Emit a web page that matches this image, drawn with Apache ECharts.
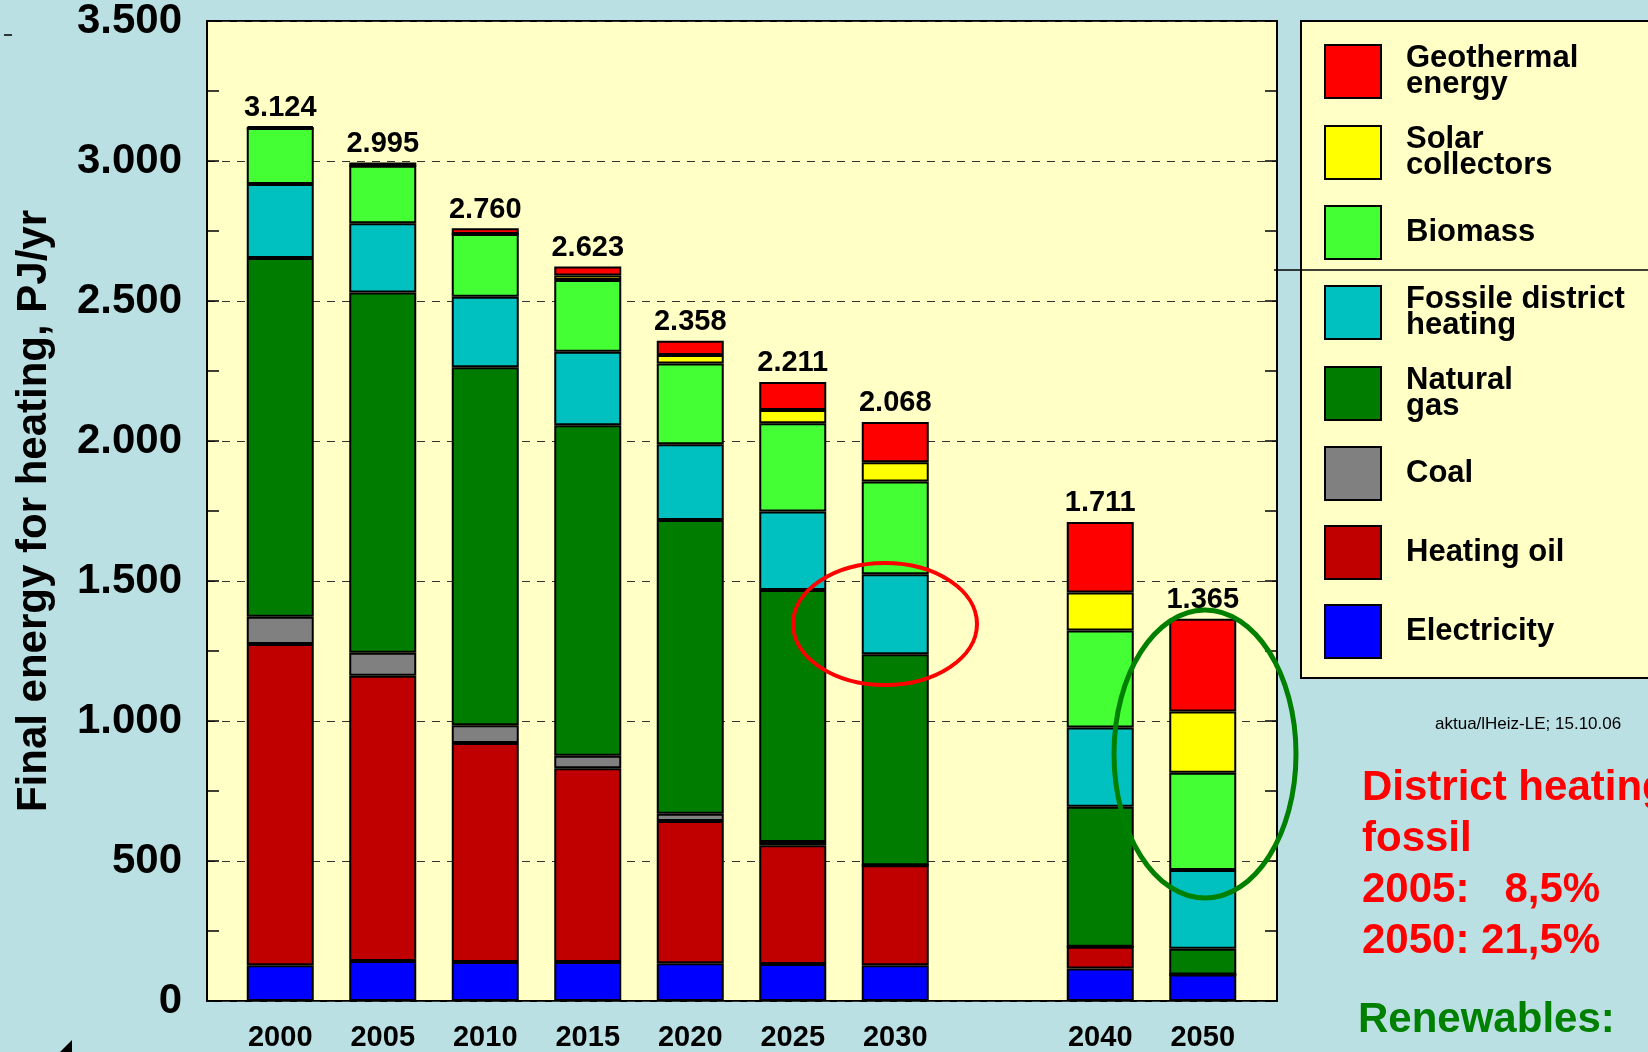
<!DOCTYPE html>
<html>
<head>
<meta charset="utf-8">
<title>Final energy for heating</title>
<script src="https://cdn.jsdelivr.net/npm/echarts@6/dist/echarts.min.js"></script>
<style>
  html, body { margin: 0; padding: 0; background: #bbe0e3; }
  #heatChart { width: 1648px; height: 1052px; }
</style>
</head>
<body>
<div id="heatChart"></div>
<script>
// categories (the blank one keeps the gap between 2030 and 2040)
var years = ["2000", "2005", "2010", "2015", "2020", "2025", "2030", "", "2040", "2050"];

// PJ/yr per source
var electricity = [128, 143, 139, 139, 135, 132, 128, null, 116, 95];
var heatingOil = [1147, 1019, 782, 692, 508, 424, 357, null, 78, 0];
var coal = [97, 82, 64, 45, 26, 12, 0, null, 0, 0];
var naturalGas = [1282, 1286, 1278, 1180, 1049, 900, 753, null, 500, 92];
var districtHeating = [264, 248, 252, 263, 270, 280, 286, null, 283, 281];
var biomass = [200, 205, 224, 256, 289, 315, 331, null, 346, 347];
var solar = [0, 0, 0, 16, 30, 48, 69, null, 136, 219];
var geothermal = [6, 12, 21, 32, 51, 100, 144, null, 252, 331];
var totals = [3124, 2995, 2760, 2623, 2358, 2211, 2068, null, 1711, 1365];

// y axis ticks
var yMin = 0;
var yMax = 3500;
var yStep = 500;

var FONT = "'Liberation Sans', Arial, sans-serif";

// bottom to top
var sources = [
  { name: "Electricity", label: "Electricity", color: "#0000ff", data: electricity },
  { name: "Heating oil", label: "Heating oil", color: "#c00000", data: heatingOil },
  { name: "Coal", label: "Coal", color: "#808080", data: coal },
  { name: "Natural gas", label: "Natural\ngas", color: "#007c00", data: naturalGas },
  { name: "Fossile district heating", label: "Fossile district\nheating", color: "#00c0c0", data: districtHeating },
  { name: "Biomass", label: "Biomass", color: "#44ff33", data: biomass },
  { name: "Solar collectors", label: "Solar\ncollectors", color: "#ffff00", data: solar },
  { name: "Geothermal energy", label: "Geothermal\nenergy", color: "#ff0000", data: geothermal },
];

// 3124 -> 3.124
function fmt(v) {
  return String(v).replace(/\B(?=(\d{3})+(?!\d))/g, ".");
}

var legendText = {};
sources.forEach(function (s) {
  legendText[s.name] = s.label;
});

var series = sources.map(function (s) {
  return {
    name: s.name,
    type: "bar",
    stack: "heat",
    xAxisIndex: 1,
    yAxisIndex: 2,
    barWidth: 67,
    data: s.data,
    itemStyle: { color: s.color, borderColor: "#000", borderWidth: 2 },
  };
});
// totals on top of the stacks
series.push({
  name: "total",
  type: "scatter",
  xAxisIndex: 1,
  yAxisIndex: 2,
  symbolSize: 0,
  silent: true,
  data: totals,
  itemStyle: { opacity: 1 },
  label: {
    show: true,
    position: "top",
    distance: 4,
    formatter: function (p) {
      return fmt(p.value);
    },
    color: "#000",
    opacity: 1,
    fontSize: 29,
    fontWeight: "bold",
    fontFamily: FONT,
  },
});

var tickCfg = { show: true, inside: true, length: 12, lineStyle: { color: "#000", width: 1.5 } };
var minorCfg = { show: true, splitNumber: 2, length: 12, lineStyle: { color: "#000", width: 1.5 } };

var option = {
  backgroundColor: "#bbe0e3",
  animation: false,
  grid: [
    // frame with the yellow background
    {
      left: 207, right: 371, top: 21, bottom: 51,
      show: true,
      backgroundColor: "#ffffc6",
      borderColor: "#000",
      borderWidth: 2,
    },
    // bars, inset a bit from the frame
    { left: 229, right: 394, top: 21, bottom: 51 },
  ],
  xAxis: [
    { type: "value", gridIndex: 0, show: false, min: 0, max: 1 },
    {
      type: "category",
      gridIndex: 1,
      data: years,
      axisLine: { show: false },
      axisTick: { show: false },
      axisLabel: {
        margin: 22,
        color: "#000",
        fontSize: 29,
        fontWeight: "bold",
        fontFamily: FONT,
      },
    },
  ],
  yAxis: [
    {
      type: "value",
      gridIndex: 0,
      position: "left",
      min: yMin,
      max: yMax,
      interval: yStep,
      name: "Final energy for heating, PJ/yr",
      nameLocation: "middle",
      nameRotate: 90,
      nameGap: 152,
      nameTextStyle: { color: "#000", fontSize: 42, fontWeight: "bold", fontFamily: FONT },
      axisLine: { show: true, lineStyle: { color: "#000", width: 2 } },
      axisTick: tickCfg,
      minorTick: minorCfg,
      axisLabel: {
        margin: 25,
        color: "#000",
        fontSize: 42,
        fontWeight: "bold",
        fontFamily: FONT,
        formatter: fmt,
      },
      splitLine: { show: true, lineStyle: { color: "#333", width: 1, type: [8, 7] } },
    },
    {
      type: "value",
      gridIndex: 0,
      position: "right",
      min: yMin,
      max: yMax,
      interval: yStep,
      axisLine: { show: true, lineStyle: { color: "#000", width: 2 } },
      axisTick: tickCfg,
      minorTick: minorCfg,
      axisLabel: { show: false },
      splitLine: { show: false },
    },
    { type: "value", gridIndex: 1, show: false, min: yMin, max: yMax, interval: yStep },
  ],
  legend: {
    orient: "vertical",
    left: 1319,
    top: 38,
    z: 5,
    icon: "rect",
    itemWidth: 56,
    itemHeight: 53,
    itemGap: 24,
    selectedMode: false,
    data: sources.map(function (s) { return s.name; }).reverse(),
    formatter: function (name) {
      return legendText[name];
    },
    textStyle: {
      color: "#000",
      fontSize: 31,
      fontWeight: "bold",
      fontFamily: FONT,
      lineHeight: 26,
      padding: [0, 0, 0, 20],
    },
  },
  graphic: [
    {
      type: "rect",
      z: 1,
      shape: { x: 1301, y: 21, width: 400, height: 657 },
      style: { fill: "#ffffc6", stroke: "#000", lineWidth: 2 },
    },
    {
      type: "line",
      z: 6,
      shape: { x1: 1274, y1: 270, x2: 1648, y2: 270 },
      style: { stroke: "#000", lineWidth: 1.5 },
    },
    // highlight rings
    {
      type: "ellipse",
      z: 20,
      shape: { cx: 885, cy: 624, rx: 92, ry: 61 },
      style: { fill: null, stroke: "#ff0000", lineWidth: 4 },
    },
    {
      type: "ellipse",
      z: 20,
      shape: { cx: 1205, cy: 754, rx: 91, ry: 144 },
      style: { fill: null, stroke: "#008000", lineWidth: 5 },
    },
    {
      type: "text",
      z: 20,
      x: 1435,
      y: 716,
      style: { text: "aktua/lHeiz-LE; 15.10.06", fill: "#000", font: "17px " + FONT },
    },
    {
      type: "text",
      z: 20,
      x: 1362,
      y: 763,
      style: {
        text: "District heating\nfossil\n2005:   8,5%\n2050: 21,5%",
        fill: "#ff0000",
        font: "bold 42px " + FONT,
        lineHeight: 51,
      },
    },
    {
      type: "text",
      z: 20,
      x: 1358,
      y: 999,
      style: { text: "Renewables:", fill: "#008000", font: "bold 42px " + FONT },
    },
    {
      type: "line",
      shape: { x1: 4, y1: 35, x2: 12, y2: 35 },
      style: { stroke: "#000", lineWidth: 1.5 },
    },
    {
      type: "polygon",
      shape: { points: [[60, 1052], [72, 1040], [72, 1052]] },
      style: { fill: "#000" },
    },
  ],
  series: series,
};

var chart = echarts.init(document.getElementById("heatChart"));
chart.setOption(option);
</script>
</body>
</html>
